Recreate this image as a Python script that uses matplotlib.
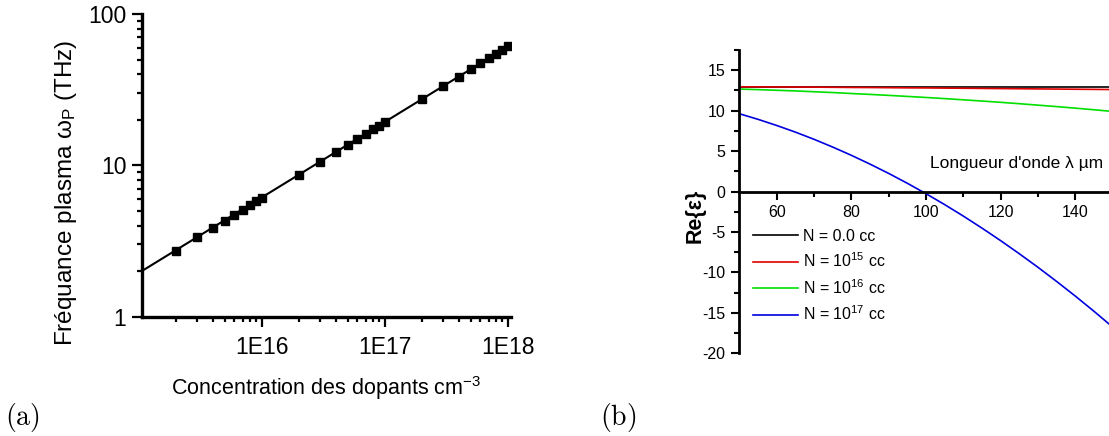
import numpy as np
import matplotlib
matplotlib.use("Agg")
from matplotlib import pyplot as plt
from matplotlib.ticker import FixedLocator, NullFormatter, MultipleLocator

plt.rcParams["font.family"] = ["Liberation Sans", "DejaVu Sans"]
plt.rcParams["mathtext.fontset"] = "custom"
plt.rcParams["mathtext.rm"] = "Liberation Sans"
plt.rcParams["mathtext.it"] = "Liberation Sans:italic"
plt.rcParams["mathtext.bf"] = "Liberation Sans:bold"

# (a) plasma frequency vs doping
dopants = [2e15, 3e15, 4e15, 5e15, 6e15, 7e15, 8e15, 9e15, 1e16,
           2e16, 3e16, 4e16, 5e16, 6e16, 7e16, 8e16, 9e16, 1e17,
           2e17, 3e17, 4e17, 5e17, 6e17, 7e17, 8e17, 9e17, 1e18]
omega_p = [2.73, 3.34, 3.86, 4.31, 4.72, 5.10, 5.46, 5.79, 6.10,
           8.63, 10.6, 12.2, 13.6, 14.9, 16.1, 17.3, 18.3, 19.3,
           27.3, 33.4, 38.6, 43.1, 47.2, 51.0, 54.6, 57.9, 61.0]
fit_x = [1.06e15, 1e18]
fit_y = [2.0, 61.0]
xticks_a = [1e16, 1e17, 1e18]
xticklabels_a = ["1E16", "1E17", "1E18"]
yticks_a = [1, 10, 100]
yticklabels_a = ["1", "10", "100"]

# (b) Re{eps} vs wavelength
lam = [50, 55, 60, 65, 70, 75, 80, 85, 90, 95, 100,
       105, 110, 115, 120, 125, 130, 135, 140, 145, 150]
eps_n0 = [12.95] * len(lam)
eps_n15 = [12.95, 12.94, 12.93, 12.92, 12.91, 12.89, 12.87, 12.86, 12.84, 12.82, 12.81,
           12.79, 12.77, 12.75, 12.73, 12.71, 12.69, 12.67, 12.65, 12.63, 12.61]
eps_n16 = [12.67, 12.60, 12.52, 12.44, 12.34, 12.24, 12.12, 12.01, 11.89, 11.76, 11.63,
           11.49, 11.34, 11.19, 11.03, 10.86, 10.68, 10.50, 10.31, 10.11, 9.90]
eps_n17 = [9.62, 8.93, 8.17, 7.35, 6.46, 5.50, 4.48, 3.39, 2.24, 1.02, -0.27,
           -1.62, -3.04, -4.53, -6.08, -7.70, -9.38, -11.13, -12.94, -14.82, -16.77]
series_b = [
    (eps_n0, "#000000", r"N = 0.0 cc"),
    (eps_n15, "#e00000", r"N = 10$^{\mathregular{15}}$ cc"),
    (eps_n16, "#00e000", r"N = 10$^{\mathregular{16}}$ cc"),
    (eps_n17, "#0000e0", r"N = 10$^{\mathregular{17}}$ cc"),
]

W, H = 1109, 436
fig = plt.figure(figsize=(W / 100, H / 100), dpi=100)

# ---- panel (a)
ax1 = fig.add_axes([141.7 / W, 1 - 316.7 / H, (510.6 - 141.7) / W, (316.7 - 14) / H])
ax1.set_xscale("log")
ax1.set_yscale("log")
ax1.plot(fit_x, fit_y, color="black", lw=1.5, zorder=2)
ax1.plot(dopants, omega_p, ls="none", marker="s", ms=6, color="black", zorder=3)
ax1.set_xlim(1.06e15, 1.055e18)
ax1.set_ylim(1, 100)
for s in ["top", "right"]:
    ax1.spines[s].set_visible(False)
for s in ["left", "bottom"]:
    ax1.spines[s].set_linewidth(2.4)
ax1.xaxis.set_major_locator(FixedLocator(xticks_a))
ax1.set_xticklabels(xticklabels_a)
ax1.xaxis.set_minor_locator(FixedLocator(
    [m * 10 ** e for e in (15, 16, 17) for m in range(2, 10)]))
ax1.xaxis.set_minor_formatter(NullFormatter())
ax1.yaxis.set_major_locator(FixedLocator(yticks_a))
ax1.set_yticklabels(yticklabels_a)
ax1.yaxis.set_minor_locator(FixedLocator(
    [m * 10 ** e for e in (0, 1) for m in range(2, 10)]))
ax1.yaxis.set_minor_formatter(NullFormatter())
ax1.tick_params(which="major", direction="out", length=7, width=1.6,
                labelsize=16.5, pad=4)
ax1.tick_params(axis="x", which="major", pad=7)
ax1.tick_params(which="minor", direction="out", length=3.5, width=1.6)
fig.text(65.6 / W, 1 - 193 / H, r"Fréquance plasma $\mathregular{\omega_P}$ (THz)",
         rotation=90, ha="center", va="center", fontsize=17.5)
fig.text(326 / W, 1 - 388 / H, r"Concentration des dopants cm$^{\mathregular{-3}}$",
         ha="center", va="center", fontsize=15.5)

# ---- panel (b)
ax2 = fig.add_axes([739.3 / W, 1 - 353.3 / H, (1112.8 - 739.3) / W, (353.3 - 50) / H])
for vals, col, lab in series_b:
    ax2.plot(lam, vals, color=col, lw=1.2, label=lab)
ax2.set_xlim(50, 150)
ax2.set_ylim(-20, 17.5)
ax2.spines["top"].set_visible(False)
ax2.spines["right"].set_visible(False)
ax2.spines["bottom"].set_position(("data", 0))
for s in ["left", "bottom"]:
    ax2.spines[s].set_linewidth(2.0)
ax2.xaxis.set_major_locator(FixedLocator([60, 80, 100, 120, 140]))
ax2.xaxis.set_minor_locator(FixedLocator([70, 90, 110, 130, 150]))
ax2.yaxis.set_major_locator(MultipleLocator(5))
ax2.yaxis.set_minor_locator(MultipleLocator(2.5))
ax2.set_yticks(np.arange(-20, 16, 5))
ax2.set_yticklabels([str(v) for v in range(-20, 16, 5)])
ax2.tick_params(which="major", direction="out", length=6, width=1.5,
                labelsize=11.5, pad=4)
ax2.tick_params(which="minor", direction="out", length=3.5, width=1.5)
ax2.text(1103 / W, 1 - 163 / H, "Longueur d'onde λ µm", transform=fig.transFigure,
         ha="right", va="center", fontsize=12.5)
fig.text(695 / W, 1 - 216 / H, "Re{ε}", rotation=90, ha="center", va="center",
         fontsize=15.5, fontweight="bold")
ax2.legend(loc="upper left", bbox_to_anchor=(753 / W, 1 - 229 / H),
           bbox_transform=fig.transFigure, frameon=False, fontsize=11.5,
           handlelength=2.8, handletextpad=0.3, borderpad=0, borderaxespad=0,
           labelspacing=0.48)

fig.text(5 / W, 1 - 417 / H, r"$\mathrm{(a)}$", math_fontfamily="cm",
         ha="left", va="center", fontsize=20)
fig.text(600 / W, 1 - 417 / H, r"$\mathrm{(b)}$", math_fontfamily="cm",
         ha="left", va="center", fontsize=20)

fig.savefig("out.png", dpi=100)
